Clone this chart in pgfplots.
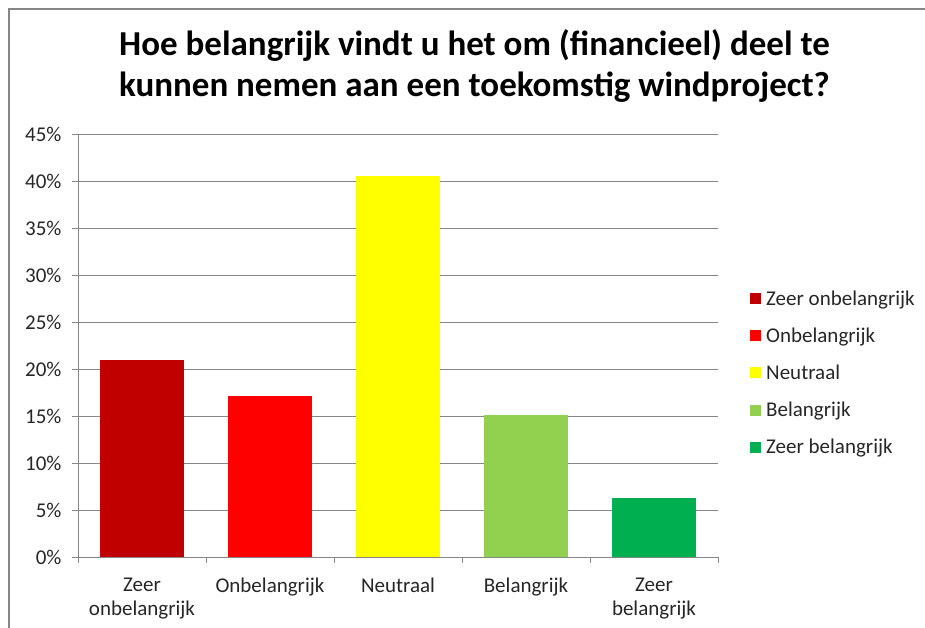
\documentclass[border=0pt]{standalone}
\usepackage{pgfplots}
\pgfplotsset{compat=1.18}
\usepackage{fontspec}
\setmainfont{Carlito}

\definecolor{zeeronb}{HTML}{C00000}
\definecolor{onb}{HTML}{FF0000}
\definecolor{neutr}{HTML}{FFFF00}
\definecolor{bel}{HTML}{92D050}
\definecolor{zeerbel}{HTML}{00B050}
\definecolor{gridgray}{HTML}{868686}
\definecolor{txt}{HTML}{262626}

\begin{document}
\begin{tikzpicture}[x=1pt,y=1pt]
\useasboundingbox (-78,-71) rectangle (847,557);
% chart frame (left and top edge visible)
\draw[gridgray, line width=1.2pt] (-69,-71) -- (-69,548) -- (847,548);
\node[anchor=base, font=\fontsize{35}{40}\selectfont\bfseries] at (396.5,501)
  {Hoe belangrijk vindt u het om (financieel) deel te};
\node[anchor=base, font=\fontsize{35}{40}\selectfont\bfseries] at (396.5,460)
  {kunnen nemen aan een toekomstig windproject?};
\begin{axis}[
    at={(0,0)}, anchor=south west,
    scale only axis,
    width=640pt, height=423pt,
    ybar, bar width=0.66,
    bar shift=0pt,
    xmin=-0.5, xmax=4.5,
    ymin=0, ymax=45,
    xtick={0,1,2,3,4},
    xticklabels={Zeer\\onbelangrijk, Onbelangrijk, Neutraal, Belangrijk, Zeer\\belangrijk},
    minor xtick={-0.5,0.5,1.5,2.5,3.5,4.5},
    ytick={0,5,...,45},
    yticklabels={0\%,5\%,10\%,15\%,20\%,25\%,30\%,35\%,40\%,45\%},
    axis x line*=bottom, axis y line*=left,
    axis line style={-, draw=gridgray, line width=0.8pt},
    ymajorgrids,
    grid style={draw=gridgray, line width=0.8pt},
    tick align=outside,
    major tick length=6pt,
    minor tick length=6pt,
    x tick style={draw=none},
    minor x tick style={draw=gridgray, line width=0.8pt},
    y tick style={draw=gridgray, line width=0.8pt},
    tick label style={font=\fontsize{21}{24}\selectfont, text=txt},
    xticklabel style={align=center, yshift=-11pt},
    yticklabel style={xshift=-7pt},
    legend style={draw=none, fill=none, at={(1.05,0.435)}, anchor=west,
        font=\fontsize{21}{24}\selectfont, text=txt,
        row sep=17pt, inner sep=0pt,
        /tikz/every odd column/.append style={column sep=3pt}},
    legend cell align=left,
    legend image code/.code={\fill[#1,draw=none] (0pt,-5.5pt) rectangle (11pt,5.5pt);},
]
\addplot[fill=zeeronb, draw=none] coordinates {(0,21.0)};
\addplot[fill=onb, draw=none] coordinates {(1,17.1)};
\addplot[fill=neutr, draw=none] coordinates {(2,40.5)};
\addplot[fill=bel, draw=none] coordinates {(3,15.1)};
\addplot[fill=zeerbel, draw=none] coordinates {(4,6.3)};
\legend{Zeer onbelangrijk, Onbelangrijk, Neutraal, Belangrijk, Zeer belangrijk}
\end{axis}
\end{tikzpicture}
\end{document}
